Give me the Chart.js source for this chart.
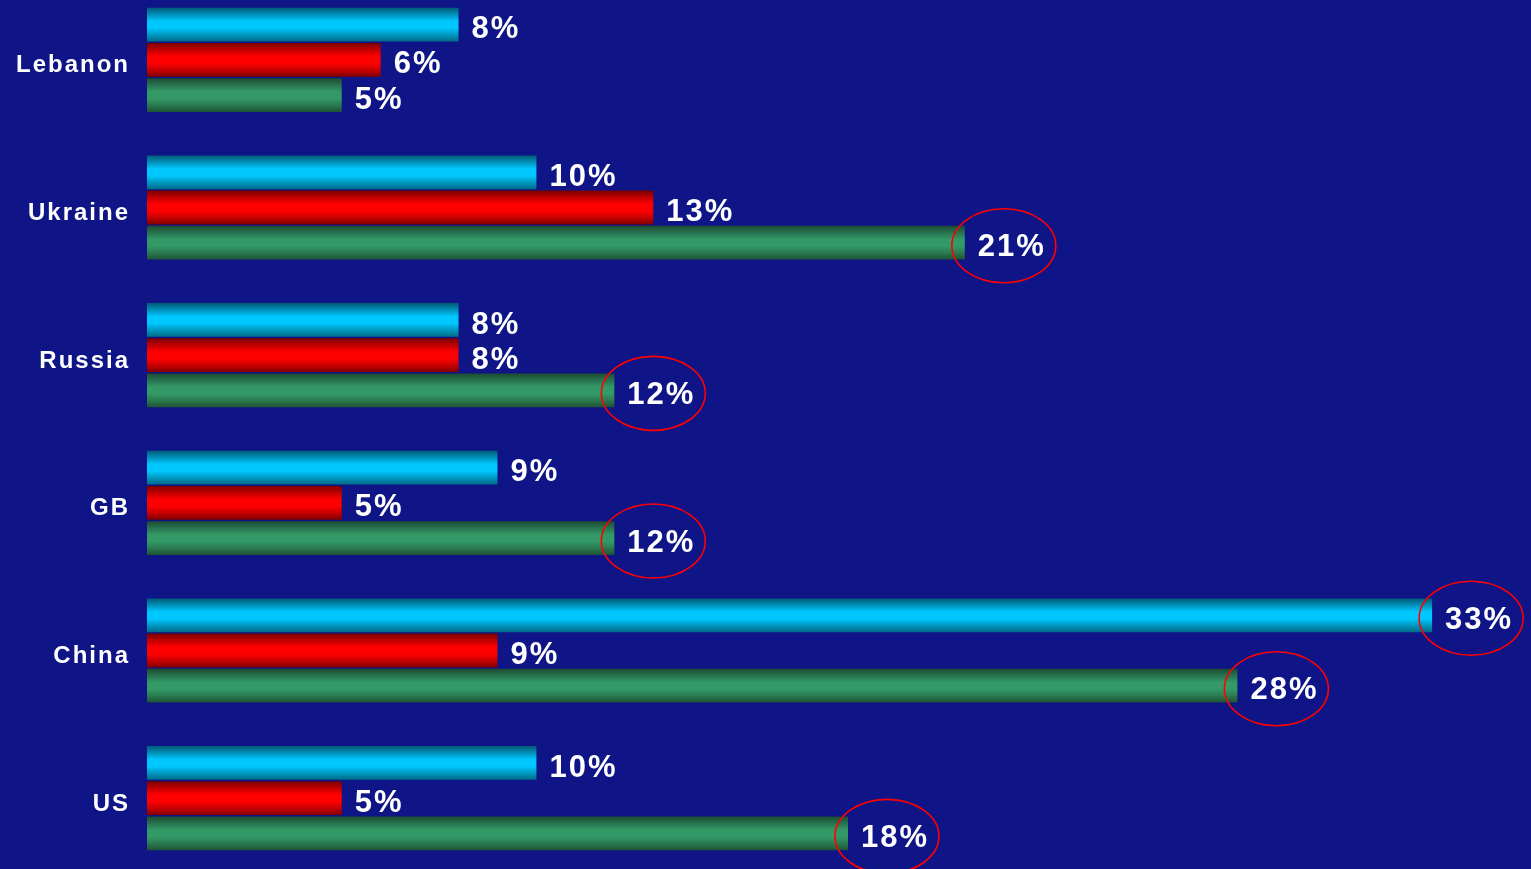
<!DOCTYPE html>
<html>
<head>
<meta charset="utf-8">
<script src="https://cdn.jsdelivr.net/npm/chart.js@4.4.1/dist/chart.umd.min.js"></script>
<style>
  html, body { margin: 0; padding: 0; background: #0f1587; overflow: hidden; width: 1531px; height: 869px; }
  #wrap { position: absolute; left: 0; top: -14px; width: 1531px; height: 886px; }
</style>
</head>
<body>
<div id="wrap"><canvas id="c"></canvas></div>
<script>
const categories = ["Lebanon", "Ukraine", "Russia", "GB", "China", "US"];
const seriesCyan  = [8, 10, 8, 9, 33, 10];
const seriesRed   = [6, 13, 8, 5, 9, 5];
const seriesGreen = [5, 21, 12, 12, 28, 18];
// which labels are circled in red: [datasetIndex, categoryIndex]
const circled = [[2, 1], [2, 2], [2, 3], [0, 4], [2, 4], [2, 5]];

const palettes = [
  ["#005a78", "#0090b8", "#00c8ff", "#00c8ff", "#0098c0", "#006a88"],
  ["#7a0000", "#c00000", "#ff0000", "#ff0000", "#c80000", "#800000"],
  ["#1c4a30", "#287250", "#339966", "#339966", "#2a7a50", "#1e5234"]
];
const CAT_PCT = 0.715, BAR_PCT = 0.96;

function barGradient(ctx) {
  const chart = ctx.chart;
  const ds = ctx.datasetIndex;
  const pal = palettes[ds];
  const y = chart.scales.y;
  if (!chart.chartArea || !y || ctx.dataIndex === undefined) return pal[2];
  const band = y.height / categories.length;
  const c = y.getPixelForValue(ctx.dataIndex);
  const group = band * CAT_PCT;
  const slot = group / 3;
  const center = c - group / 2 + slot * (ds + 0.5);
  const half = slot * BAR_PCT / 2;
  const g = chart.ctx.createLinearGradient(0, center - half, 0, center + half);
  pal.forEach((col, i) => g.addColorStop(i / (pal.length - 1), col));
  return g;
}

const labelPlugin = {
  id: 'valueLabels',
  beforeDraw(chart) { chart.ctx.letterSpacing = '2px'; },
  afterDatasetsDraw(chart) {
    const ctx = chart.ctx;
    ctx.save();
    ctx.letterSpacing = '2px';
    ctx.font = 'bold 31px "Liberation Sans", Arial, sans-serif';
    ctx.fillStyle = '#ffffff';
    ctx.textAlign = 'left';
    ctx.textBaseline = 'middle';
    chart.data.datasets.forEach((d, di) => {
      const meta = chart.getDatasetMeta(di);
      meta.data.forEach((bar, i) => {
        ctx.fillText(d.data[i] + '%', bar.x + 13, bar.y + 5);
      });
    });
    ctx.strokeStyle = '#ff0000';
    ctx.lineWidth = 1.6;
    circled.forEach(([di, i]) => {
      const bar = chart.getDatasetMeta(di).data[i];
      ctx.beginPath();
      ctx.ellipse(bar.x + 39, bar.y + 3, 52, 37, 0, 0, Math.PI * 2);
      ctx.stroke();
    });
    ctx.restore();
  }
};

new Chart(document.getElementById('c'), {
  type: 'bar',
  data: {
    labels: categories,
    datasets: [
      { label: 'Series 1', data: seriesCyan, backgroundColor: barGradient },
      { label: 'Series 2', data: seriesRed, backgroundColor: barGradient },
      { label: 'Series 3', data: seriesGreen, backgroundColor: barGradient }
    ]
  },
  options: {
    indexAxis: 'y',
    responsive: true,
    maintainAspectRatio: false,
    animation: false,
    layout: { padding: { left: 0, right: 21, top: 0, bottom: 0 } },
    datasets: {
      bar: {
        categoryPercentage: CAT_PCT,
        barPercentage: BAR_PCT,
        borderWidth: 0
      }
    },
    plugins: { colors: { enabled: false }, legend: { display: false }, tooltip: { enabled: false } },
    scales: {
      x: { display: false, min: 0, max: 35 },
      y: {
        grid: { display: false, drawTicks: false },
        border: { display: false },
        ticks: {
          color: '#ffffff',
          padding: 17,
          labelOffset: 6,
          font: { family: '"Liberation Sans", Arial, sans-serif', size: 24, weight: 'bold' }
        },
        afterFit(scale) {
          scale.width = 147;
          scale.paddingTop = 0;
          scale.paddingBottom = 0;
        }
      }
    }
  },
  plugins: [labelPlugin]
});
</script>
</body>
</html>
